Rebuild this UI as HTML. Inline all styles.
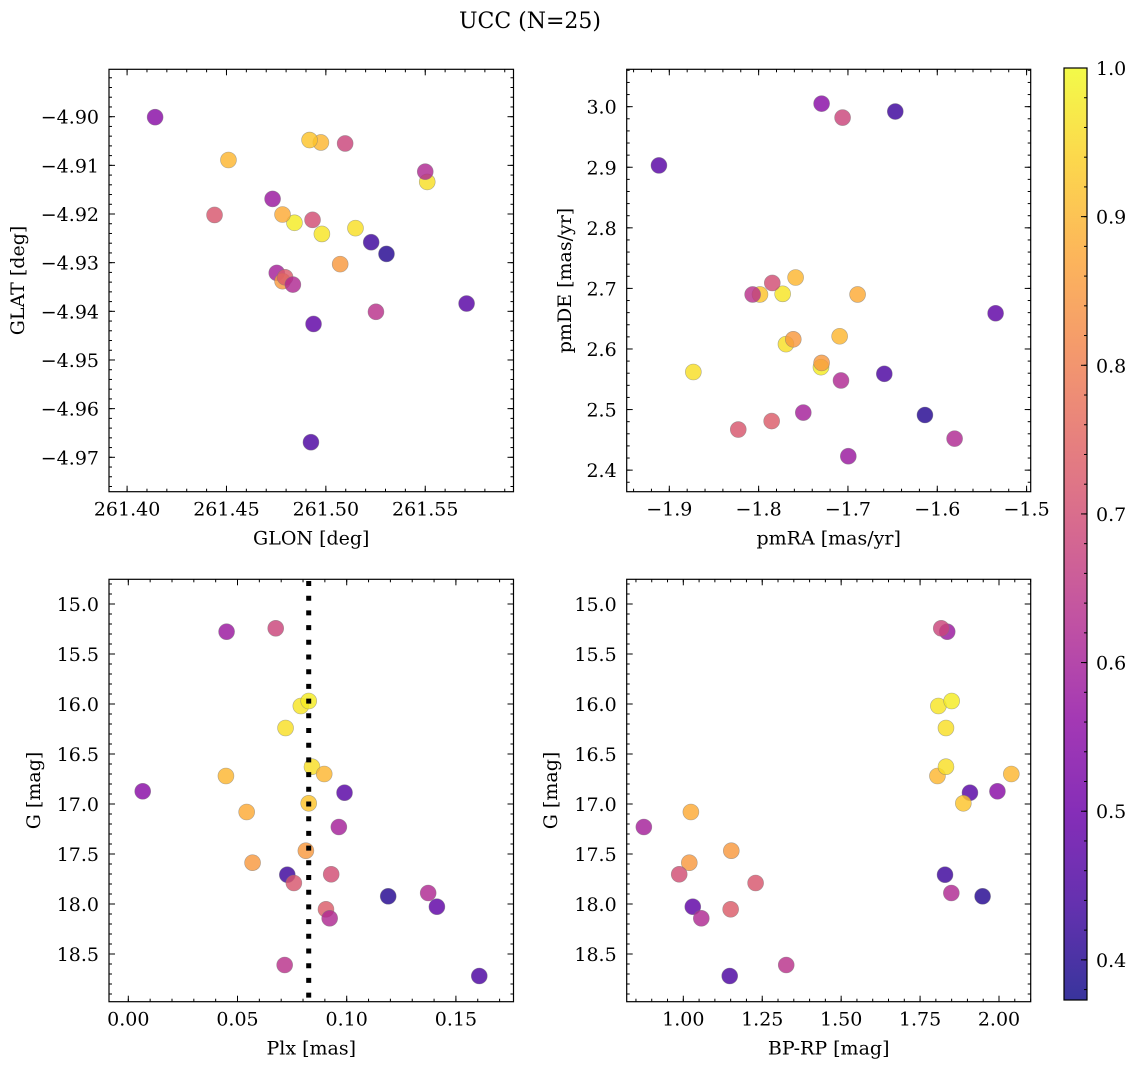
<!DOCTYPE html>
<html><head><meta charset="utf-8"><title>UCC (N=25)</title>
<style>
html,body{margin:0;padding:0;background:#fff;}
svg{display:block;font-family:"DejaVu Serif","Liberation Serif",serif;}
</style></head>
<body>
<svg id="fig" width="1136" height="1068" viewBox="0 0 1136 1068" xmlns="http://www.w3.org/2000/svg">
<text x="530" y="28" font-size="22" text-anchor="middle">UCC (N=25)</text>
</svg>
<script>
// ---- data (25 stars) ----
const starIds = ["a","b","c","d","e","f","g","h","i","j","k","l","m","n","o","p","q","r","s","t","u","v","w","x","y"];
const glon = [261.4141,261.4732,261.5097,261.4980,261.4842,261.5510,261.4510,261.5149,261.4975,261.5708,261.4782,261.4918,261.4753,261.4782,261.5072,261.5228,261.4440,261.4933,261.5305,261.5500,261.4938,261.4795,261.4834,261.5252,261.4925];
const glat = [-4.9001,-4.9169,-4.9055,-4.9241,-4.9218,-4.9134,-4.9089,-4.9229,-4.9053,-4.9384,-4.9201,-4.9048,-4.9321,-4.9338,-4.9303,-4.9258,-4.9202,-4.9212,-4.9282,-4.9113,-4.9426,-4.9330,-4.9345,-4.9401,-4.9669];
const pmra = [-1.7295,-1.6996,-1.706,-1.7731,-1.7302,-1.7694,-1.7586,-1.8731,-1.7093,-1.9116,-1.6892,-1.7985,-1.75,-1.7612,-1.7295,-1.647,-1.8228,-1.7847,-1.6138,-1.7078,-1.5347,-1.7854,-1.5806,-1.8067,-1.6593];
const pmde = [3.005,2.423,2.982,2.691,2.570,2.608,2.718,2.562,2.621,2.903,2.690,2.690,2.495,2.616,2.577,2.992,2.467,2.709,2.491,2.548,2.659,2.481,2.452,2.690,2.559];
const plx = [0.0066,0.045,0.0675,0.079,0.0826,0.072,0.0447,0.0841,0.0897,0.099,0.0542,0.0826,0.0964,0.0569,0.0813,0.0728,0.0758,0.0929,0.119,0.1373,0.1413,0.0905,0.0922,0.0716,0.1607];
const gmag = [16.873,15.277,15.243,16.02,15.97,16.24,16.72,16.627,16.70,16.887,17.08,16.993,17.23,17.587,17.467,17.707,17.79,17.703,17.923,17.89,18.027,18.053,18.143,18.61,18.72];
const bprp = [1.995,1.836,1.817,1.808,1.850,1.832,1.805,1.832,2.039,1.908,1.024,1.887,0.875,1.019,1.152,1.829,1.229,0.987,1.948,1.849,1.030,1.150,1.057,1.326,1.147];
const prob = [0.55,0.58,0.68,0.97,0.98,0.96,0.90,0.96,0.90,0.47,0.88,0.92,0.60,0.85,0.85,0.43,0.72,0.70,0.40,0.62,0.48,0.73,0.62,0.64,0.45];
const plxMedian = [0.0826];
const cbarTicks = [0.4,0.5,0.6,0.7,0.8,0.9,1.0];
const cbarRange = [0.373,1.0];

const NS="http://www.w3.org/2000/svg";
const svg=document.getElementById('fig');
function mk(tag,attrs,parent){const e=document.createElementNS(NS,tag);for(const k in attrs)e.setAttribute(k,attrs[k]);(parent||svg).appendChild(e);return e;}

const plasma=[[13,8,135],[65,4,157],[106,0,168],[143,13,164],[177,42,144],[204,71,120],[225,100,98],[242,132,75],[252,166,54],[252,206,37],[240,249,33]];
function cmap(t){t=Math.max(0,Math.min(1,t));const f=t*10,i=Math.min(9,Math.floor(f)),u=f-i;const a=plasma[i],b=plasma[i+1];
return 'rgb('+[0,1,2].map(k=>Math.round(a[k]+(b[k]-a[k])*u)).join(',')+')';}
function pcol(p){return cmap((p-cbarRange[0])/(cbarRange[1]-cbarRange[0]));}
function fmtNum(v,d){const s=Math.abs(v).toFixed(d);return (v<-1e-9?'\u2212':'')+s;}
const FS=19;

function panel(o){
  const g=mk('g',{});
  
  
  const L=o.x0,R=o.x1,T=o.y0,B=o.y1;
  const sx=v=>L+(v-o.xd[0])/(o.xd[1]-o.xd[0])*(R-L);
  const sy=o.inv?(v=>T+(v-o.yd[0])/(o.yd[1]-o.yd[0])*(B-T)):(v=>B-(v-o.yd[0])/(o.yd[1]-o.yd[0])*(B-T));
  const tg=mk('g',{stroke:'#000','stroke-width':1},g);
  function ticksX(step,len,labels,dec){
    const n0=Math.ceil(o.xd[0]/step-1e-6),n1=Math.floor(o.xd[1]/step+1e-6);
    for(let n=n0;n<=n1;n++){const v=n*step,x=sx(v);
      mk('line',{x1:x,x2:x,y1:B,y2:B-len},tg);mk('line',{x1:x,x2:x,y1:T,y2:T+len},tg);
      if(labels){const t=mk('text',{x:x,y:B+24,'font-size':FS,'text-anchor':'middle',stroke:'none',fill:'#000'},g);t.textContent=fmtNum(v,dec);
        
        }}
  }
  function ticksY(step,len,labels,dec){
    const lo=Math.min(o.yd[0],o.yd[1]),hi=Math.max(o.yd[0],o.yd[1]);
    const n0=Math.ceil(lo/step-1e-6),n1=Math.floor(hi/step+1e-6);
    for(let n=n0;n<=n1;n++){const v=n*step,y=sy(v);
      mk('line',{x1:L,x2:L+len,y1:y,y2:y},tg);mk('line',{x1:R,x2:R-len,y1:y,y2:y},tg);
      if(labels){const t=mk('text',{x:L-10,y:y+7,'font-size':FS,'text-anchor':'end',stroke:'none',fill:'#000'},g);t.textContent=fmtNum(v,dec);
        
        }}
  }
  ticksX(o.xmin,3,false);ticksX(o.xmaj,6,true,o.xdec);
  ticksY(o.ymin,3,false);ticksY(o.ymaj,6,true,o.ydec);
  const fr=mk('rect',{x:L,y:T,width:R-L,height:B-T,fill:'none',stroke:'#000','stroke-width':1.2},g);
  
  
  for(let i=0;i<o.xs.length;i++){
    const c=mk('circle',{cx:sx(o.xs[i]),cy:sy(o.ys[i]),r:8,fill:pcol(prob[i]),'fill-opacity':0.82,stroke:'#7a7a7a','stroke-opacity':0.6,'stroke-width':0.6},g);
    
    
  }
  if(o.extra)o.extra(g,sx,sy);
  const xl=mk('text',{x:(L+R)/2,y:B+53,'font-size':FS,'text-anchor':'middle'},g);xl.textContent=o.xlabel;
  
  
  const cy=(T+B)/2;
  const yl=mk('text',{x:o.ylx,y:cy,'font-size':FS,'text-anchor':'middle',transform:'rotate(-90 '+o.ylx+' '+cy+')'},g);yl.textContent=o.ylabel;
  
  
}

panel({name:'glon-glat-panel',x0:109,x1:513.5,y0:69.3,y1:491.7,xd:[261.3909,261.5944],yd:[-4.97707,-4.89026],
  xmaj:0.05,xmin:0.01,ymaj:0.01,ymin:0.002,xdec:2,ydec:2,xs:glon,ys:glat,xlabel:'GLON [deg]',ylabel:'GLAT [deg]',ylx:24});
panel({name:'pm-panel',x0:626.7,x1:1030.7,y0:69.3,y1:491.7,xd:[-1.9477,-1.4954],yd:[2.3644,3.0617],
  xmaj:0.1,xmin:0.02,ymaj:0.1,ymin:0.02,xdec:1,ydec:1,xs:pmra,ys:pmde,xlabel:'pmRA [mas/yr]',ylabel:'pmDE [mas/yr]',ylx:571});
panel({name:'plx-g-panel',x0:109,x1:513.5,y0:579.3,y1:1001.7,xd:[-0.00884,0.17637],yd:[14.753,18.977],inv:true,
  xmaj:0.05,xmin:0.01,ymaj:0.5,ymin:0.1,xdec:2,ydec:1,xs:plx,ys:gmag,xlabel:'Plx [mas]',ylabel:'G [mag]',ylx:40,
  extra:function(g,sx,sy){const x=sx(plxMedian[0]);const l=mk('line',{x1:x,x2:x,y1:581,y2:1001,stroke:'#000','stroke-width':5,'stroke-dasharray':'5 9.7'},g);
    
    }});
panel({name:'cmd-panel',x0:626.7,x1:1030.7,y0:579.3,y1:1001.7,xd:[0.8207,2.1004],yd:[14.753,18.977],inv:true,
  xmaj:0.25,xmin:0.05,ymaj:0.5,ymin:0.1,xdec:2,ydec:1,xs:bprp,ys:gmag,xlabel:'BP-RP [mag]',ylabel:'G [mag]',ylx:557});

(function(){
  const X=1064,W=23,T=68,B=1000;
  const cg=mk('g',{});
  
  
  const defs=mk('defs',{},cg);
  const gr=mk('linearGradient',{id:'cbg',x1:0,y1:1,x2:0,y2:0},defs);
  for(let k=0;k<=20;k++){mk('stop',{offset:(k/20),'stop-color':cmap(k/20),'stop-opacity':0.82},gr);}
  mk('rect',{x:X,y:T,width:W,height:B-T,fill:'url(#cbg)'},cg);
  const sy=v=>B-(v-cbarRange[0])/(cbarRange[1]-cbarRange[0])*(B-T);
  for(let n=Math.ceil(cbarRange[0]/0.02-1e-6);n<=Math.floor(cbarRange[1]/0.02+1e-6);n++){const y=sy(n*0.02);
    mk('line',{x1:X+W,x2:X+W-3,y1:y,y2:y,stroke:'#000'},cg);}
  cbarTicks.forEach(v=>{const y=sy(v);mk('line',{x1:X+W,x2:X+W-6,y1:y,y2:y,stroke:'#000'},cg);
    const t=mk('text',{x:X+W+9,y:y+7,'font-size':FS},cg);t.textContent=v.toFixed(1);
    
    });
  mk('rect',{x:X,y:T,width:W,height:B-T,fill:'none',stroke:'#000','stroke-width':1.2},cg);
})();
</script>
</body></html>
